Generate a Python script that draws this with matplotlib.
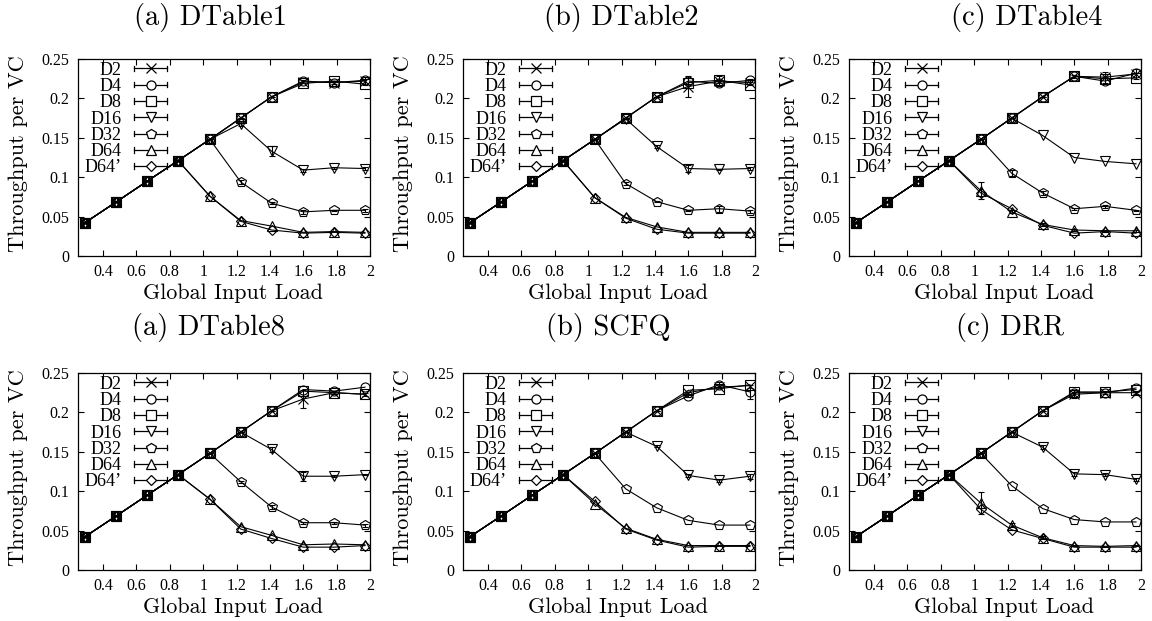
import matplotlib
matplotlib.use("Agg")
import matplotlib.pyplot as plt
from matplotlib.lines import Line2D
from matplotlib.legend_handler import HandlerBase
from matplotlib.ticker import FixedLocator, FuncFormatter

plt.rcParams['axes.formatter.use_mathtext'] = True

# ---------------- data ----------------
load = [0.29, 0.475, 0.665, 0.85, 1.04, 1.225, 1.41, 1.60, 1.785, 1.97]
series = ["D2", "D4", "D8", "D16", "D32", "D64", "D64\u2019"]
markers = ["x", "o", "s", "v", "p", "^", "D"]

dtable1 = {
    "D2":   [0.042, 0.068, 0.095, 0.121, 0.148, 0.175, 0.202, 0.221, 0.220, 0.222],
    "D4":   [0.042, 0.068, 0.095, 0.121, 0.148, 0.175, 0.202, 0.222, 0.220, 0.223],
    "D8":   [0.042, 0.068, 0.095, 0.121, 0.148, 0.175, 0.202, 0.219, 0.222, 0.218],
    "D16":  [0.042, 0.068, 0.095, 0.121, 0.148, 0.168, 0.133, 0.109, 0.112, 0.111],
    "D32":  [0.042, 0.068, 0.095, 0.121, 0.148, 0.094, 0.067, 0.056, 0.058, 0.058],
    "D64":  [0.042, 0.068, 0.095, 0.121, 0.076, 0.045, 0.038, 0.030, 0.031, 0.030],
    "D64\u2019": [0.042, 0.068, 0.095, 0.121, 0.076, 0.044, 0.033, 0.029, 0.030, 0.029],
}
dtable2 = {
    "D2":   [0.042, 0.068, 0.095, 0.121, 0.148, 0.175, 0.202, 0.215, 0.222, 0.220],
    "D4":   [0.042, 0.068, 0.095, 0.121, 0.148, 0.175, 0.202, 0.222, 0.219, 0.223],
    "D8":   [0.042, 0.068, 0.095, 0.121, 0.148, 0.175, 0.202, 0.220, 0.223, 0.217],
    "D16":  [0.042, 0.068, 0.095, 0.121, 0.148, 0.174, 0.139, 0.111, 0.110, 0.111],
    "D32":  [0.042, 0.068, 0.095, 0.121, 0.148, 0.092, 0.069, 0.058, 0.060, 0.057],
    "D64":  [0.042, 0.068, 0.095, 0.121, 0.074, 0.049, 0.037, 0.030, 0.030, 0.030],
    "D64\u2019": [0.042, 0.068, 0.095, 0.121, 0.074, 0.048, 0.034, 0.029, 0.029, 0.029],
}
dtable4 = {
    "D2":   [0.042, 0.068, 0.095, 0.121, 0.148, 0.175, 0.202, 0.228, 0.227, 0.231],
    "D4":   [0.042, 0.068, 0.095, 0.121, 0.148, 0.175, 0.202, 0.228, 0.222, 0.232],
    "D8":   [0.042, 0.068, 0.095, 0.121, 0.148, 0.175, 0.202, 0.228, 0.225, 0.226],
    "D16":  [0.042, 0.068, 0.095, 0.121, 0.148, 0.175, 0.153, 0.125, 0.120, 0.117],
    "D32":  [0.042, 0.068, 0.095, 0.121, 0.148, 0.105, 0.080, 0.060, 0.063, 0.058],
    "D64":  [0.042, 0.068, 0.095, 0.121, 0.083, 0.056, 0.040, 0.033, 0.032, 0.032],
    "D64\u2019": [0.042, 0.068, 0.095, 0.121, 0.080, 0.060, 0.039, 0.029, 0.031, 0.029],
}
dtable8 = {
    "D2":   [0.042, 0.068, 0.095, 0.121, 0.148, 0.175, 0.202, 0.217, 0.225, 0.223],
    "D4":   [0.042, 0.068, 0.095, 0.121, 0.148, 0.175, 0.202, 0.229, 0.227, 0.232],
    "D8":   [0.042, 0.068, 0.095, 0.121, 0.148, 0.175, 0.202, 0.227, 0.225, 0.223],
    "D16":  [0.042, 0.068, 0.095, 0.121, 0.148, 0.175, 0.153, 0.119, 0.119, 0.121],
    "D32":  [0.042, 0.068, 0.095, 0.121, 0.148, 0.112, 0.080, 0.060, 0.060, 0.057],
    "D64":  [0.042, 0.068, 0.095, 0.121, 0.090, 0.055, 0.044, 0.032, 0.033, 0.032],
    "D64\u2019": [0.042, 0.068, 0.095, 0.121, 0.090, 0.052, 0.040, 0.029, 0.029, 0.031],
}
scfq = {
    "D2":   [0.042, 0.068, 0.095, 0.121, 0.148, 0.175, 0.202, 0.225, 0.232, 0.234],
    "D4":   [0.042, 0.068, 0.095, 0.121, 0.148, 0.175, 0.202, 0.221, 0.235, 0.226],
    "D8":   [0.042, 0.068, 0.095, 0.121, 0.148, 0.175, 0.202, 0.228, 0.230, 0.235],
    "D16":  [0.042, 0.068, 0.095, 0.121, 0.148, 0.175, 0.157, 0.120, 0.114, 0.119],
    "D32":  [0.042, 0.068, 0.095, 0.121, 0.148, 0.103, 0.079, 0.063, 0.057, 0.057],
    "D64":  [0.042, 0.068, 0.095, 0.121, 0.084, 0.053, 0.039, 0.031, 0.031, 0.031],
    "D64\u2019": [0.042, 0.068, 0.095, 0.121, 0.087, 0.052, 0.038, 0.029, 0.030, 0.030],
}
drr = {
    "D2":   [0.042, 0.068, 0.095, 0.121, 0.148, 0.175, 0.202, 0.223, 0.225, 0.225],
    "D4":   [0.042, 0.068, 0.095, 0.121, 0.148, 0.175, 0.202, 0.225, 0.225, 0.231],
    "D8":   [0.042, 0.068, 0.095, 0.121, 0.148, 0.175, 0.202, 0.226, 0.226, 0.229],
    "D16":  [0.042, 0.068, 0.095, 0.121, 0.148, 0.175, 0.156, 0.122, 0.121, 0.115],
    "D32":  [0.042, 0.068, 0.095, 0.121, 0.148, 0.107, 0.078, 0.064, 0.061, 0.061],
    "D64":  [0.042, 0.068, 0.095, 0.121, 0.085, 0.057, 0.041, 0.031, 0.030, 0.031],
    "D64\u2019": [0.042, 0.068, 0.095, 0.121, 0.077, 0.051, 0.040, 0.029, 0.029, 0.029],
}

# visible error bars (half-widths), by series
err_dtable1 = {"D2": [0, 0, 0, 0, 0, 0, 0, 0.002, 0.002, 0.005],
               "D16": [0, 0, 0, 0, 0, 0.003, 0.006, 0.002, 0.001, 0.002],
               "D32": [0, 0, 0, 0, 0, 0.002, 0.001, 0.003, 0.001, 0.002]}
err_dtable2 = {"D2": [0, 0, 0, 0, 0, 0, 0, 0.013, 0.006, 0.003],
               "D4": [0, 0, 0, 0, 0, 0, 0, 0.004, 0.003, 0.002],
               "D16": [0, 0, 0, 0, 0, 0, 0.002, 0.005, 0.001, 0.002],
               "D32": [0, 0, 0, 0, 0, 0.002, 0.001, 0.001, 0.004, 0.002]}
err_dtable4 = {"D2": [0, 0, 0, 0, 0, 0, 0, 0.002, 0.007, 0.006],
               "D64": [0, 0, 0, 0, 0.011, 0.002, 0.002, 0.001, 0.001, 0.001],
               "D32": [0, 0, 0, 0, 0, 0.004, 0.002, 0.001, 0.002, 0.001]}
err_dtable8 = {"D2": [0, 0, 0, 0, 0, 0, 0, 0.012, 0.002, 0.002],
               "D16": [0, 0, 0, 0, 0, 0, 0.003, 0.006, 0.001, 0.001],
               "D32": [0, 0, 0, 0, 0, 0.001, 0.003, 0.001, 0.001, 0.002]}
err_scfq = {"D4": [0, 0, 0, 0, 0, 0, 0, 0.002, 0.003, 0.009],
            "D16": [0, 0, 0, 0, 0, 0, 0.001, 0.002, 0.002, 0.003]}
err_drr = {"D64": [0, 0, 0, 0, 0.014, 0.003, 0.002, 0.001, 0.001, 0.001],
           "D2": [0, 0, 0, 0, 0, 0, 0, 0.005, 0.002, 0.002],
           "D16": [0, 0, 0, 0, 0, 0, 0.002, 0.003, 0.002, 0.002]}

titles = ["(a) DTable1", "(b) DTable2", "(c) DTable4",
          "(a) DTable8", "(b) SCFQ", "(c) DRR"]
panels = [dtable1, dtable2, dtable4, dtable8, scfq, drr]
errors = [err_dtable1, err_dtable2, err_dtable4, err_dtable8, err_scfq, err_drr]

x_ticks = [0.4, 0.6, 0.8, 1.0, 1.2, 1.4, 1.6, 1.8, 2.0]
y_ticks = [0, 0.05, 0.10, 0.15, 0.20, 0.25]

# ---------------- layout ----------------
W, H = 1152, 621
lefts = [78, 463, 849]
tops = [59, 373]
ax_w, ax_h = 292, 197
title_x = [[210, 621, 1027], [209, 608, 1010]]
title_y = [18, 328]

TICK_FONT = "Liberation Serif"
CM_FONT = "cmr10"
marker_size = {"x": 7.2, "o": 6.5, "s": 6.5, "v": 7.0, "p": 7.2, "^": 7.0, "D": 5.0}
LEG_FS = 13.0


class GnuplotHandler(HandlerBase):
    def create_artists(self, legend, orig_handle, xdescent, ydescent,
                       width, height, fontsize, trans):
        y = height / 2 - ydescent
        x0, x1 = -xdescent, width - xdescent
        h = 2.0
        arts = [
            Line2D([x0, x1], [y, y], color="k", lw=0.9),
            Line2D([x0, x0], [y - h, y + h], color="k", lw=0.9),
            Line2D([x1, x1], [y - h, y + h], color="k", lw=0.9),
            Line2D([(x0 + x1) / 2], [y], marker=orig_handle.get_marker(),
                   ms=orig_handle.get_markersize(), mfc="white", mec="k",
                   mew=0.9, ls="none"),
        ]
        for a in arts:
            a.set_transform(trans)
        return arts


fig = plt.figure(figsize=(W / 100, H / 100), dpi=100)

for idx, (data, errs, title) in enumerate(zip(panels, errors, titles)):
    r, c = divmod(idx, 3)
    ax = fig.add_axes([lefts[c] / W, 1 - (tops[r] + ax_h) / H, ax_w / W, ax_h / H])
    handles = []
    for name, mk in zip(series, markers):
        ms = marker_size[mk]
        e = errs.get(name)
        if e is not None:
            ax.errorbar(load, data[name], yerr=e, fmt="none", ecolor="k",
                        elinewidth=0.8, capsize=2.5, capthick=0.8, zorder=2)
        ax.plot(load, data[name], color="k", lw=0.8, marker=mk, ms=ms,
                mfc="none", mec="k", mew=0.8, zorder=3)
        handles.append(Line2D([], [], marker=mk, ms=ms, color="k"))
    ax.set_xlim(0.25, 2.0)
    ax.set_ylim(0, 0.25)
    ax.xaxis.set_major_locator(FixedLocator(x_ticks))
    ax.yaxis.set_major_locator(FixedLocator(y_ticks))
    ax.xaxis.set_major_formatter(FuncFormatter(lambda v, p: "%g" % round(v, 2)))
    ax.yaxis.set_major_formatter(FuncFormatter(lambda v, p: "%g" % round(v, 2)))
    ax.tick_params(direction="in", top=True, right=True, length=4, width=0.8,
                   labelsize=11.5, labelfontfamily=TICK_FONT)
    ax.tick_params(axis="x", pad=6)
    ax.tick_params(axis="y", pad=6.5)
    for s in ax.spines.values():
        s.set_linewidth(0.9)
    ax.set_xlabel("Global Input Load", fontfamily=CM_FONT, fontsize=15.9)
    ax.set_ylabel("Throughput per VC", fontfamily=CM_FONT, fontsize=16.1)
    ax.xaxis.set_label_coords(0.53, -0.138)
    ax.yaxis.set_label_coords(-0.170, 0.521)
    ax.legend(handles, series, loc="upper left", frameon=False,
              markerfirst=False, handler_map={Line2D: GnuplotHandler()},
              prop={"family": TICK_FONT, "size": LEG_FS},
              handlelength=1.83, handletextpad=0.68, labelspacing=-0.04,
              borderpad=0.37, borderaxespad=0.0,
              bbox_to_anchor=(0.0, 1.02))
    fig.text(title_x[r][c] / W, 1 - title_y[r] / H, title, ha="center",
             va="center", fontfamily=CM_FONT, fontsize=20.5)

fig.savefig("out.png", dpi=100)
